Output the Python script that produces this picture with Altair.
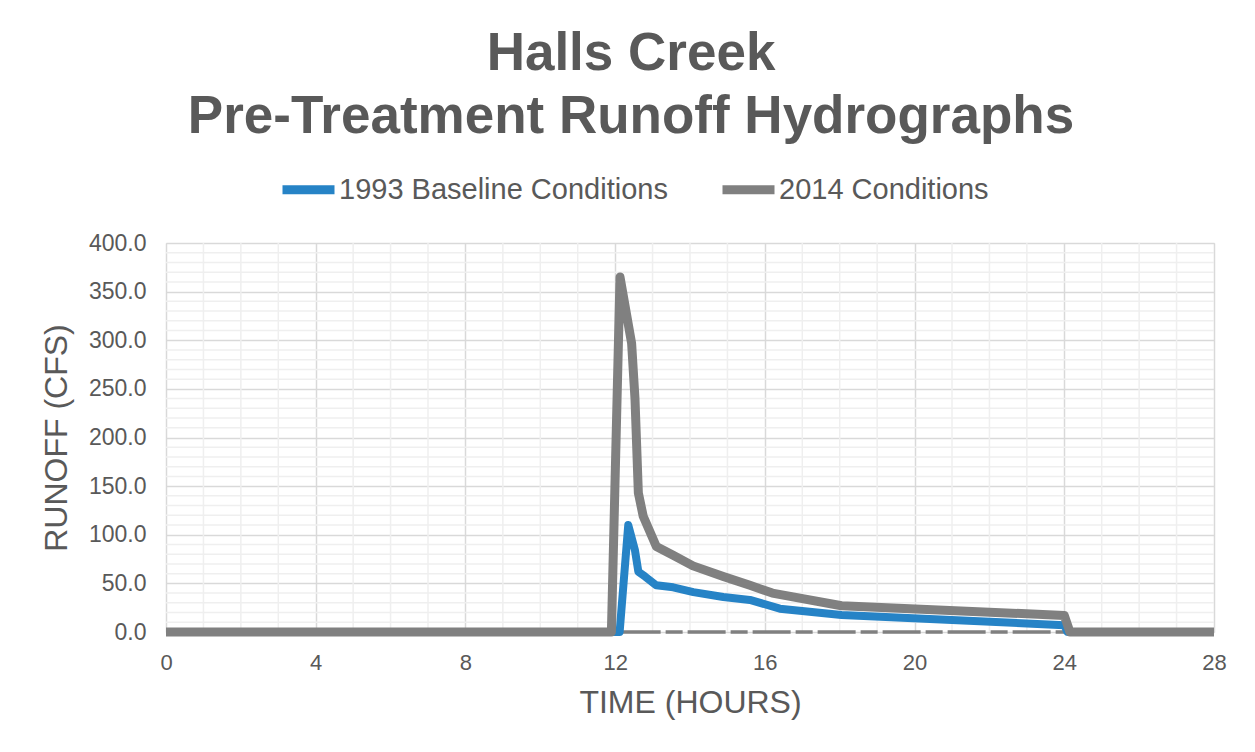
import altair as alt
import pandas as pd

# ---- data ----
hours_1993 = [0, 12.12, 12.35, 12.53, 12.62, 12.8, 13.1, 13.55, 14.09, 14.89, 15.6, 16.4, 18.05, 24.0, 24.08, 28]
runoff_1993 = [0, 0, 110, 84, 62, 57, 48, 46, 41, 36, 33, 24, 17.5, 7, 0, 0]

hours_2014 = [0, 11.9, 12.13, 12.44, 12.53, 12.62, 12.75, 13.1, 13.55, 14.08, 14.89, 15.6, 16.2, 18.05, 24.0, 24.15, 28]
runoff_2014 = [0, 0, 365, 297, 240, 143, 119, 88, 79, 68, 57, 48, 40, 27, 17, 0, 0]

dash_hours = [12.2, 24.0]
dash_runoff = [0, 0]

series_names = ["1993 Baseline Conditions", "2014 Conditions"]
series_colors = ["#2683C6", "#808080"]

x_major = [0, 4, 8, 12, 16, 20, 24, 28]
x_minor = [1, 2, 3, 5, 6, 7, 9, 10, 11, 13, 14, 15, 17, 18, 19, 21, 22, 23, 25, 26, 27]
y_major = [0, 50, 100, 150, 200, 250, 300, 350, 400]
y_minor = [v for v in range(10, 400, 10) if v % 50 != 0]

FONT = "Liberation Sans"
TXT = "#595959"

df93 = pd.DataFrame({"hour": hours_1993, "runoff": runoff_1993, "series": series_names[0]})
df14 = pd.DataFrame({"hour": hours_2014, "runoff": runoff_2014, "series": series_names[1]})
dfdash = pd.DataFrame({"hour": dash_hours, "runoff": dash_runoff})

xscale = alt.Scale(domain=[0, 28], nice=False, zero=False)
yscale = alt.Scale(domain=[0, 400], nice=False)
cscale = alt.Scale(domain=series_names, range=series_colors)

xaxis = alt.Axis(values=x_major, title="TIME (HOURS)", grid=True, gridColor="#d9d9d9", gridWidth=1.5,
                 domain=False, ticks=False, labelFontSize=22, labelColor=TXT, labelFont=FONT,
                 labelPadding=20, labelFlush=False, titleFontSize=32, titleColor=TXT, titleFont=FONT,
                 titleFontWeight="normal", titlePadding=14)
yaxis = alt.Axis(values=y_major, format=".1f", title="RUNOFF (CFS)", grid=True, gridColor="#d9d9d9",
                 gridWidth=1.5, domain=False, ticks=False, labelFontSize=23, labelColor=TXT,
                 labelFont=FONT, labelPadding=20, labelFlush=False, titleFontSize=32, titleColor=TXT,
                 titleFont=FONT, titleFontWeight="normal", titlePadding=15)

X = lambda f: alt.X(f, scale=xscale, axis=xaxis)
Y = lambda f: alt.Y(f, scale=yscale, axis=yaxis)

minor_x = alt.Chart(pd.DataFrame({"hour": x_minor})).mark_rule(color="#efefef", strokeWidth=1.5).encode(
    x=X("hour:Q"))
minor_y = alt.Chart(pd.DataFrame({"runoff": y_minor})).mark_rule(color="#efefef", strokeWidth=1.5).encode(
    y=Y("runoff:Q"))

dashed = alt.Chart(dfdash).mark_line(color="#808080", strokeWidth=3.5, strokeDash=[38, 5, 17, 5]).encode(
    x=X("hour:Q"), y=Y("runoff:Q"))

legend = alt.Legend(orient="none", legendX=112, legendY=-84, direction="horizontal", title=None,
                    symbolType="stroke", symbolSize=2704, symbolStrokeWidth=9,
                    labelFontSize=29, labelColor=TXT, labelFont=FONT, labelOffset=0,
                    columnPadding=36, labelLimit=500)

line93 = alt.Chart(df93).mark_line(strokeWidth=8, strokeJoin="round").encode(
    x=X("hour:Q"), y=Y("runoff:Q"),
    color=alt.Color("series:N", scale=cscale, legend=legend))

line14 = alt.Chart(df14).mark_line(strokeWidth=9, strokeJoin="round").encode(
    x=X("hour:Q"), y=Y("runoff:Q"),
    color=alt.Color("series:N", scale=cscale, legend=legend))

chart = alt.layer(minor_y, minor_x, dashed, line93, line14).properties(
    width=1048, height=389,
    autosize=alt.AutoSizeParams(type="none"),
    padding={"left": 158, "top": 235, "right": 33, "bottom": 100},
    title=alt.TitleParams(["Halls Creek", "Pre-Treatment Runoff Hydrographs"], fontSize=53,
                          font=FONT, fontWeight="bold", color=TXT, lineHeight=63,
                          anchor="middle", dx=-59, offset=15),
).configure_view(strokeWidth=0).configure(background="white")

chart.save("out.html", embed_options={"renderer": "svg", "actions": False})
